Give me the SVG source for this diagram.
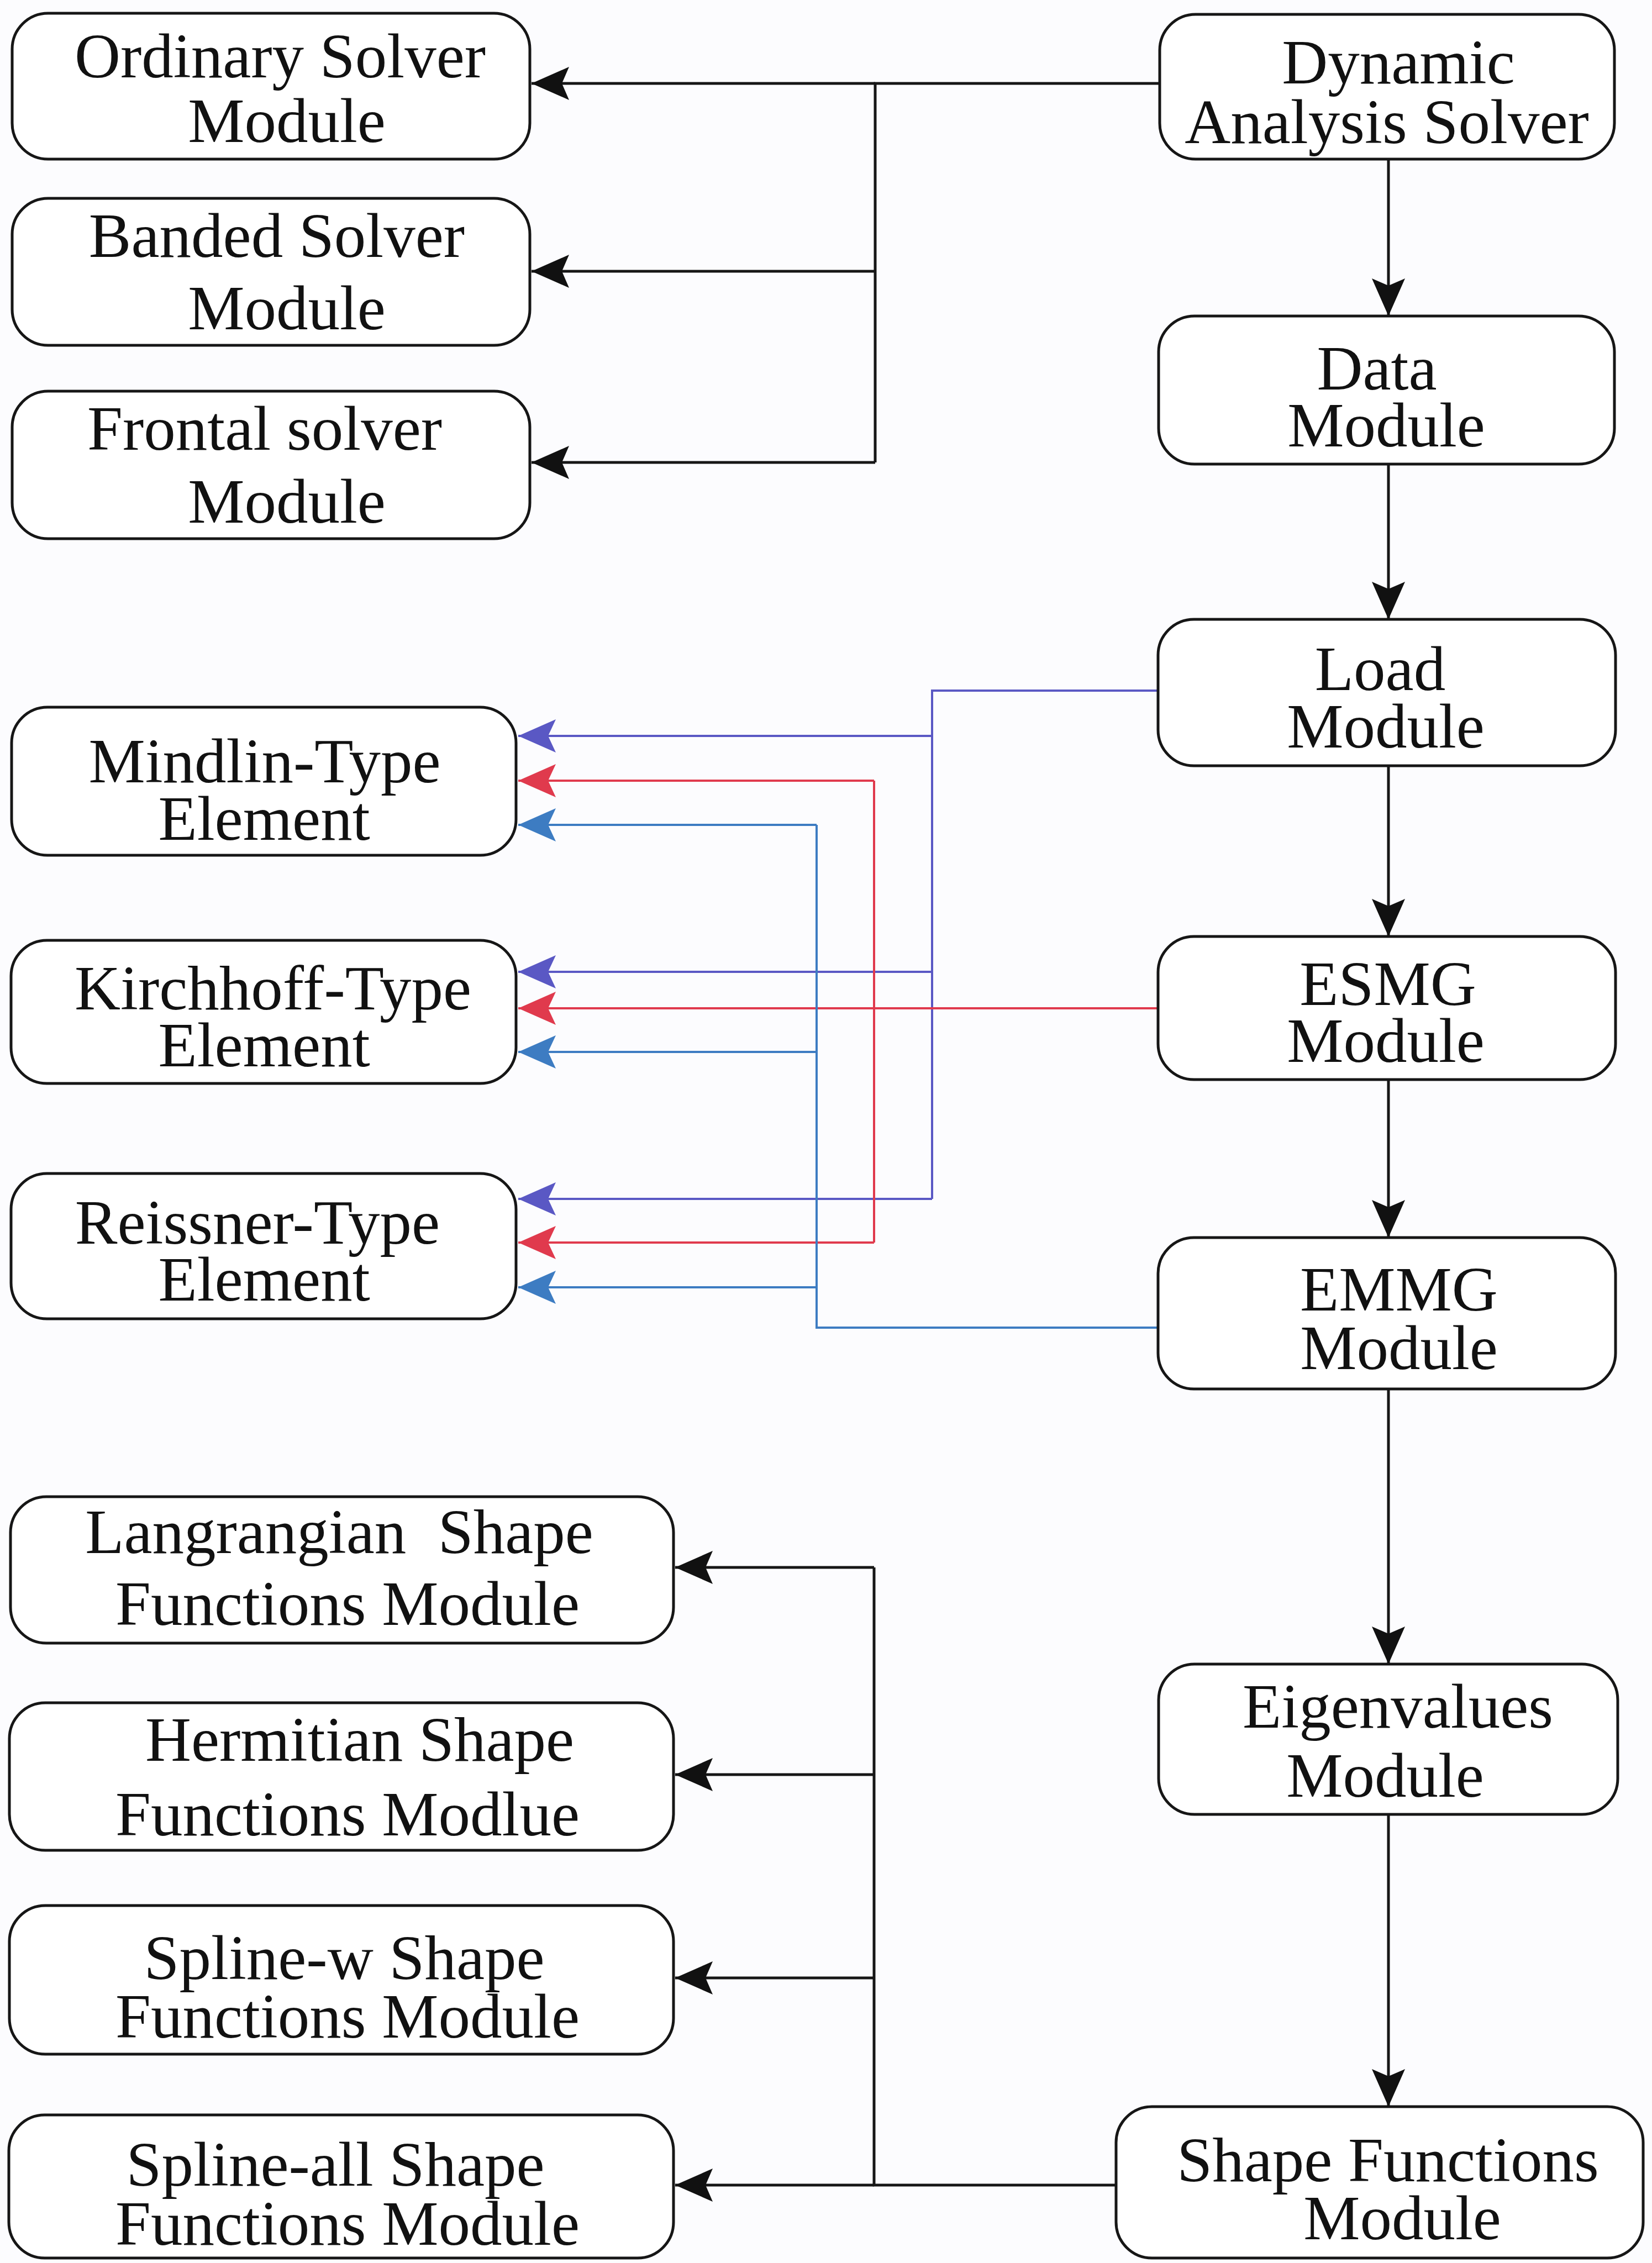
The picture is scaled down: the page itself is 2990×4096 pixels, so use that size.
<svg xmlns="http://www.w3.org/2000/svg" width="2990" height="4096" viewBox="0 0 2990 4096">
  <defs>
    <marker id="ah-black" markerUnits="userSpaceOnUse" markerWidth="70" markerHeight="64" viewBox="0 0 70 64" refX="68" refY="32" orient="auto">
      <path d="M0,2 L68,32 L0,62 L13,32 Z" fill="#111"/>
    </marker>
    <marker id="ah-violet" markerUnits="userSpaceOnUse" markerWidth="70" markerHeight="64" viewBox="0 0 70 64" refX="68" refY="32" orient="auto">
      <path d="M0,2 L68,32 L0,62 L14,32 Z" fill="#5a58c4"/>
    </marker>
    <marker id="ah-red" markerUnits="userSpaceOnUse" markerWidth="70" markerHeight="64" viewBox="0 0 70 64" refX="68" refY="32" orient="auto">
      <path d="M0,2 L68,32 L0,62 L14,32 Z" fill="#e03a4d"/>
    </marker>
    <marker id="ah-blue" markerUnits="userSpaceOnUse" markerWidth="70" markerHeight="64" viewBox="0 0 70 64" refX="68" refY="32" orient="auto">
      <path d="M0,2 L68,32 L0,62 L14,32 Z" fill="#3d7cc2"/>
    </marker>
  </defs>
  <style>
    .box { fill: #ffffff; stroke: #161616; stroke-width: 5; }
    .lbl { font-family: "Liberation Serif", "Times New Roman", serif; font-size: 115px; fill: #111; text-anchor: middle; }
    .pre { white-space: pre; }
    .k { fill: none; stroke: #161616; stroke-width: 5; }
    .v { fill: none; stroke: #5a58c4; stroke-width: 4; }
    .r { fill: none; stroke: #e03a4d; stroke-width: 4; }
    .b { fill: none; stroke: #3d7cc2; stroke-width: 4; }
  </style>

  <rect x="0" y="0" width="2990" height="4096" fill="#fcfcfe"/>

  <!-- connectors -->
  <g id="connectors">
    <!-- solver branch -->
    <path class="k" d="M2099,151 H1584 V837"/>
    <path class="k" d="M1584,151 H962" marker-end="url(#ah-black)"/>
    <path class="k" d="M1584,491 H962" marker-end="url(#ah-black)"/>
    <path class="k" d="M1584,837 H962" marker-end="url(#ah-black)"/>

    <!-- main chain -->
    <path class="k" d="M2513,288 V572" marker-end="url(#ah-black)"/>
    <path class="k" d="M2513,840 V1121" marker-end="url(#ah-black)"/>
    <path class="k" d="M2513,1386 V1695" marker-end="url(#ah-black)"/>
    <path class="k" d="M2513,1954 V2240" marker-end="url(#ah-black)"/>
    <path class="k" d="M2513,2514 V3012" marker-end="url(#ah-black)"/>
    <path class="k" d="M2513,3284 V3813" marker-end="url(#ah-black)"/>

    <!-- load module to elements -->
    <path class="v" d="M2096,1250 H1687 V2170"/>
    <path class="v" d="M1687,1332 H938" marker-end="url(#ah-violet)"/>
    <path class="v" d="M1687,1759 H938" marker-end="url(#ah-violet)"/>
    <path class="v" d="M1687,2170 H938" marker-end="url(#ah-violet)"/>

    <!-- ESMG module to elements -->
    <path class="r" d="M1582,1413 V2249"/>
    <path class="r" d="M1582,1413 H938" marker-end="url(#ah-red)"/>
    <path class="r" d="M2096,1825 H938" marker-end="url(#ah-red)"/>
    <path class="r" d="M1582,2249 H938" marker-end="url(#ah-red)"/>

    <!-- EMMG module to elements -->
    <path class="b" d="M2096,2403 H1478 V1493"/>
    <path class="b" d="M1478,1493 H938" marker-end="url(#ah-blue)"/>
    <path class="b" d="M1478,1904 H938" marker-end="url(#ah-blue)"/>
    <path class="b" d="M1478,2330 H938" marker-end="url(#ah-blue)"/>

    <!-- shape function branch -->
    <path class="k" d="M2020,3955 H1582 V2837"/>
    <path class="k" d="M1582,2837 H1222" marker-end="url(#ah-black)"/>
    <path class="k" d="M1582,3212 H1222" marker-end="url(#ah-black)"/>
    <path class="k" d="M1582,3580 H1222" marker-end="url(#ah-black)"/>
    <path class="k" d="M1582,3955 H1222" marker-end="url(#ah-black)"/>
  </g>

  <!-- solver modules -->
  <g id="ordinary-solver">
    <rect class="box" x="22" y="24" width="937" height="264" rx="65" ry="65"/>
    <text class="lbl" x="507" y="140">Ordinary Solver</text>
    <text class="lbl" x="519" y="257">Module</text>
  </g>
  <g id="banded-solver">
    <rect class="box" x="22" y="359" width="937" height="266" rx="65" ry="65"/>
    <text class="lbl" x="501" y="465">Banded Solver</text>
    <text class="lbl" x="519" y="596">Module</text>
  </g>
  <g id="frontal-solver">
    <rect class="box" x="22" y="708" width="937" height="267" rx="65" ry="65"/>
    <text class="lbl" x="479" y="814">Frontal solver</text>
    <text class="lbl" x="519" y="946">Module</text>
  </g>

  <!-- element types -->
  <g id="mindlin">
    <rect class="box" x="21" y="1280" width="913" height="268" rx="65" ry="65"/>
    <text class="lbl" x="479" y="1416">Mindlin-Type</text>
    <text class="lbl" x="478" y="1520">Element</text>
  </g>
  <g id="kirchhoff">
    <rect class="box" x="20" y="1702" width="914" height="259" rx="65" ry="65"/>
    <text class="lbl" x="494" y="1827">Kirchhoff-Type</text>
    <text class="lbl" x="478" y="1930">Element</text>
  </g>
  <g id="reissner">
    <rect class="box" x="20" y="2124" width="914" height="263" rx="65" ry="65"/>
    <text class="lbl" x="466" y="2251">Reissner-Type</text>
    <text class="lbl" x="478" y="2354">Element</text>
  </g>

  <!-- shape function modules -->
  <g id="langrangian">
    <rect class="box" x="19" y="2709" width="1200" height="265" rx="65" ry="65"/>
    <text class="lbl pre" x="614" y="2811">Langrangian  Shape</text>
    <text class="lbl" x="629" y="2941">Functions Module</text>
  </g>
  <g id="hermitian">
    <rect class="box" x="17" y="3082" width="1202" height="267" rx="65" ry="65"/>
    <text class="lbl" x="651" y="3187">Hermitian Shape</text>
    <text class="lbl" x="629" y="3322">Functions Modlue</text>
  </g>
  <g id="spline-w">
    <rect class="box" x="17" y="3449" width="1202" height="269" rx="65" ry="65"/>
    <text class="lbl" x="623" y="3582">Spline-w Shape</text>
    <text class="lbl" x="629" y="3688">Functions Module</text>
  </g>
  <g id="spline-all">
    <rect class="box" x="16" y="3828" width="1203" height="259" rx="65" ry="65"/>
    <text class="lbl" x="607" y="3956">Spline-all Shape</text>
    <text class="lbl" x="629" y="4063">Functions Module</text>
  </g>

  <!-- main chain -->
  <g id="dynamic-solver">
    <rect class="box" x="2099" y="26" width="823" height="262" rx="65" ry="65"/>
    <text class="lbl" x="2531" y="151">Dynamic</text>
    <text class="lbl" x="2510" y="259">Analysis Solver</text>
  </g>
  <g id="data">
    <rect class="box" x="2097" y="572" width="825" height="268" rx="65" ry="65"/>
    <text class="lbl" x="2492" y="705">Data</text>
    <text class="lbl" x="2509" y="808">Module</text>
  </g>
  <g id="load">
    <rect class="box" x="2096" y="1121" width="828" height="265" rx="65" ry="65"/>
    <text class="lbl" x="2498" y="1249">Load</text>
    <text class="lbl" x="2508" y="1353">Module</text>
  </g>
  <g id="esmg">
    <rect class="box" x="2096" y="1695" width="828" height="259" rx="65" ry="65"/>
    <text class="lbl" x="2512" y="1819">ESMG</text>
    <text class="lbl" x="2508" y="1922">Module</text>
  </g>
  <g id="emmg">
    <rect class="box" x="2096" y="2240" width="828" height="274" rx="65" ry="65"/>
    <text class="lbl" x="2532" y="2372">EMMG</text>
    <text class="lbl" x="2532" y="2478">Module</text>
  </g>
  <g id="eigenvalues">
    <rect class="box" x="2097" y="3012" width="831" height="272" rx="65" ry="65"/>
    <text class="lbl" x="2530" y="3127">Eigenvalues</text>
    <text class="lbl" x="2507" y="3252">Module</text>
  </g>
  <g id="shape-functions">
    <rect class="box" x="2020" y="3813" width="954" height="274" rx="65" ry="65"/>
    <text class="lbl" x="2512" y="3948">Shape Functions</text>
    <text class="lbl" x="2538" y="4053">Module</text>
  </g>
</svg>
